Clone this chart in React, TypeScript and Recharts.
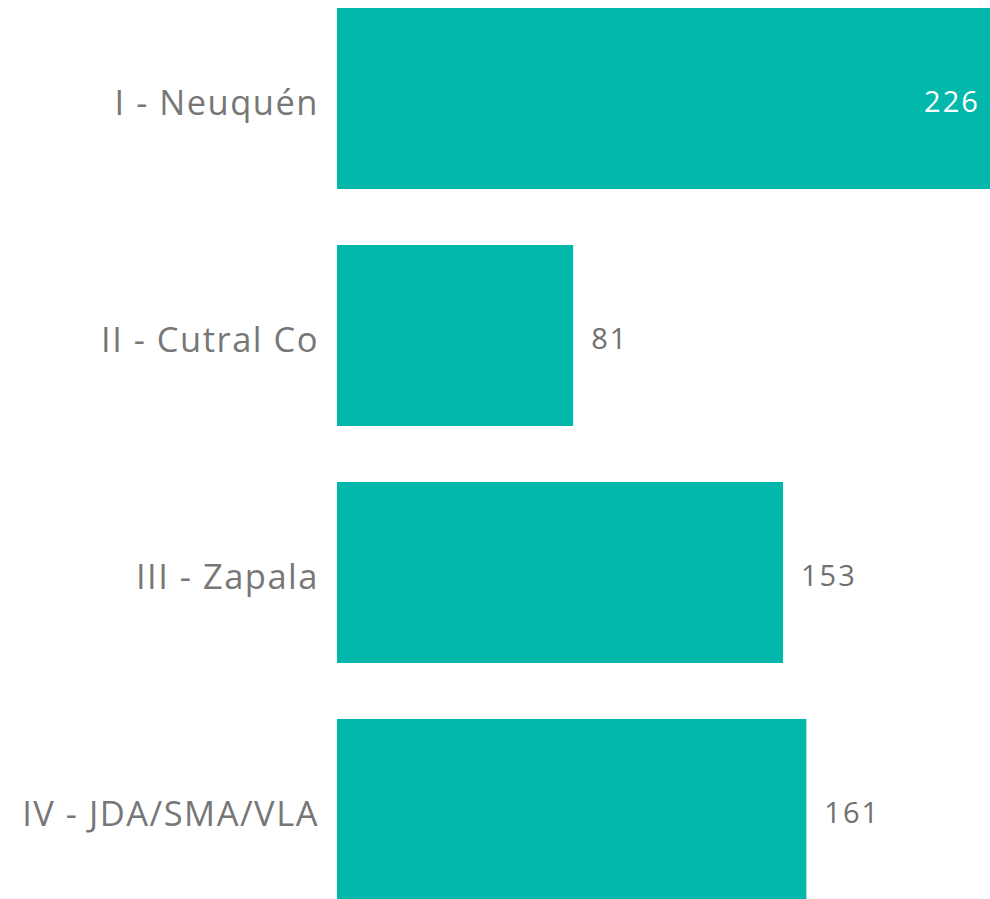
import React from "react";
import { BarChart, Bar, XAxis, YAxis, LabelList } from "recharts";

const regions = ["I - Neuquén", "II - Cutral Co", "III - Zapala", "IV - JDA/SMA/VLA"];
const counts = [226, 81, 153, 161];

const data = regions.map((name, i) => ({ name, value: counts[i] }));
const maxValue = Math.max(...counts);

const FONT = "'Open Sans', 'Noto Sans', sans-serif";

const ValueLabel = (props: any) => {
  const { x, y, width, height, value } = props;
  const inside = value === maxValue;
  return (
    <text
      x={inside ? x + width - 16 : x + width + 18}
      y={y + height / 2 + 2}
      textAnchor={inside ? "end" : "start"}
      dominantBaseline="central"
      fill={inside ? "#ffffff" : "#707070"}
      fontSize={29}
      fontFamily={FONT}
      letterSpacing={2}
    >
      {value}
    </text>
  );
};

const App = () => {
  return (
    <div style={{ position: "absolute", left: 0, top: -20 }}>
      <BarChart
        width={990}
        height={948}
        data={data}
        layout="vertical"
        margin={{ top: 0, right: 0, bottom: 0, left: 0 }}
        barCategoryGap={28}
      >
        <XAxis type="number" domain={[0, 224]} allowDataOverflow hide />
        <YAxis
          type="category"
          dataKey="name"
          width={337}
          axisLine={false}
          tickLine={false}
          tickMargin={13}
          tick={(props: any) => (
            <text
              x={props.x + 1}
              y={props.y + 3}
              textAnchor="end"
              dominantBaseline="central"
              fill="#777777"
              fontSize={34.5}
              fontFamily={FONT}
              letterSpacing={1.5}
            >
              {props.payload.value}
            </text>
          )}
        />
        <Bar dataKey="value" fill="#01B8AA" isAnimationActive={false}>
          <LabelList dataKey="value" content={ValueLabel} />
        </Bar>
      </BarChart>
    </div>
  );
};

export default App;
